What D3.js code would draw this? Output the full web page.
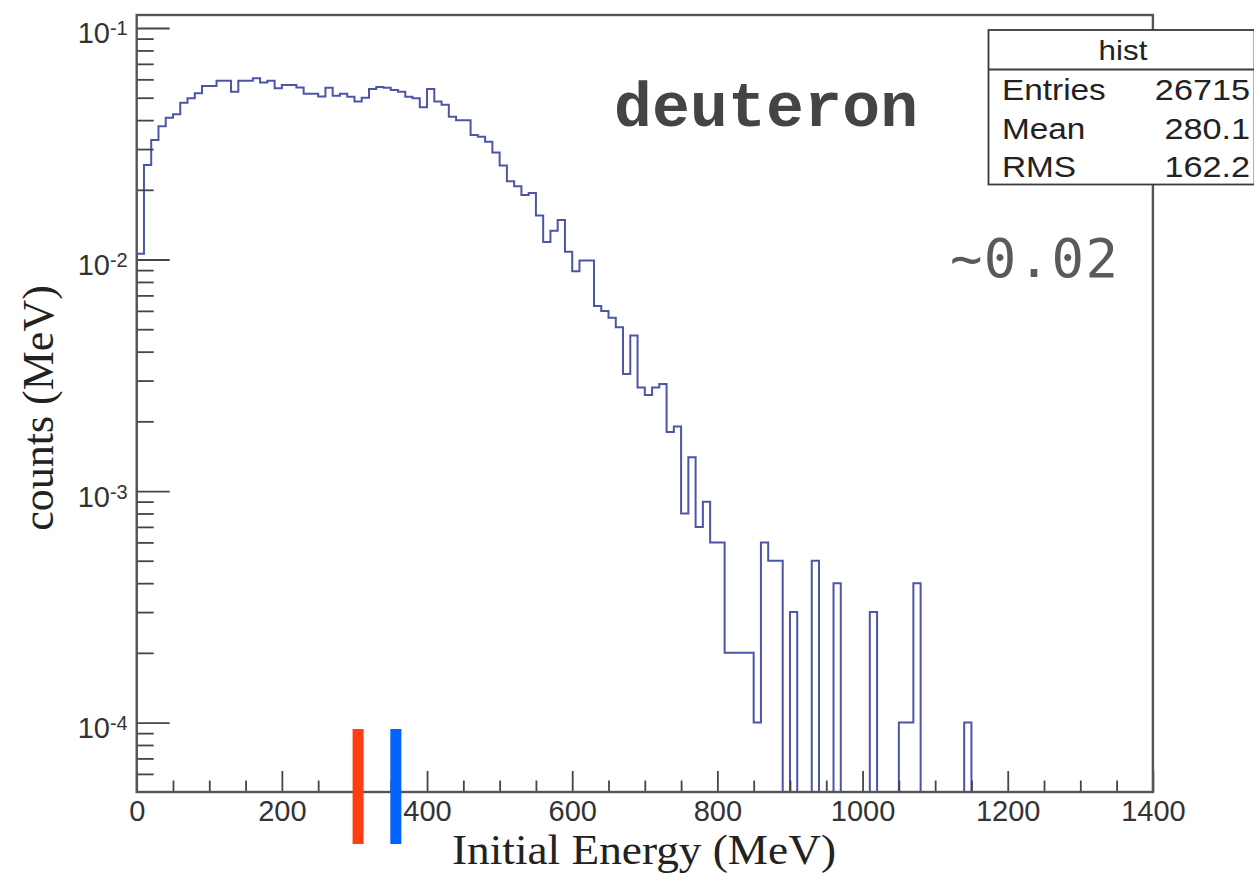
<!DOCTYPE html>
<html><head><meta charset="utf-8">
<script src="https://cdn.jsdelivr.net/npm/d3@7"></script>
<style>
html,body{margin:0;padding:0;background:#fff;}
svg{display:block;}
</style></head>
<body>
<svg id="chart" width="1254" height="873"></svg>
<script>
// ---------------- data ----------------
const binWidth = 10; // MeV per bin, histogram from 0 to 1400 MeV
const binValues = [
  0.0106, 0.0256, 0.0328, 0.0376, 0.0410, 0.0424, 0.0476, 0.0497, 0.0523, 0.0562,
  0.0562, 0.0592, 0.0592, 0.0531, 0.0592, 0.0592, 0.0606, 0.0581, 0.0592, 0.0549,
  0.0567, 0.0567, 0.0554, 0.0520, 0.0520, 0.0506, 0.0552, 0.0510, 0.0520, 0.0505,
  0.0481, 0.0500, 0.0545, 0.0556, 0.0552, 0.0540, 0.0531, 0.0505, 0.0497, 0.0455,
  0.0545, 0.0481, 0.0466, 0.0414, 0.0400, 0.0400, 0.0345, 0.0339, 0.0323, 0.0290,
  0.0255, 0.0218, 0.0207, 0.0190, 0.0194, 0.0155, 0.0119, 0.0133, 0.0148, 0.0108,
  0.0089, 0.0099, 0.0099, 0.0063, 0.0060, 0.0056, 0.0051, 0.0032, 0.0047, 0.0028,
  0.0026, 0.0028, 0.0029, 0.0018, 0.0019, 0.0008, 0.0014, 0.0007, 0.0009, 0.0006,
  0.0006, 0.0002, 0.0002, 0.0002, 0.0002, 0.0001, 0.0006, 0.0005, 0.0005, 0,
  0.0003, 0, 0, 0.0005, 0, 0, 0.0004, 0, 0, 0,
  0, 0.0003, 0, 0, 0, 0.0001, 0.0001, 0.0004, 0, 0,
  0, 0, 0, 0, 0.0001, 0, 0, 0, 0, 0,
  0, 0, 0, 0, 0, 0, 0, 0, 0, 0,
  0, 0, 0, 0, 0, 0, 0, 0, 0, 0
];
const xDomain = [0, 1400];
const yDomain = [5.012e-5, 0.1138];
const xMajorTicks = [0, 200, 400, 600, 800, 1000, 1200, 1400];
const xMinorTicks = [50,100,150,250,300,350,450,500,550,650,700,750,850,900,950,1050,1100,1150,1250,1300,1350];
const yMajorTicks = [1e-4, 1e-3, 1e-2, 1e-1];
const yTickExponents = ["-4", "-3", "-2", "-1"];
const yMinorTicks = [6e-5,7e-5,8e-5,9e-5,
  2e-4,3e-4,4e-4,5e-4,6e-4,7e-4,8e-4,9e-4,
  2e-3,3e-3,4e-3,5e-3,6e-3,7e-3,8e-3,9e-3,
  2e-2,3e-2,4e-2,5e-2,6e-2,7e-2,8e-2,9e-2];
const histName = "hist";
const statLabels = ["Entries", "Mean", "RMS"];
const statValues = ["26715", "280.1", "162.2"];
const markerEnergies = [305, 357];
const markerColors = ["#ff3d12", "#0062ff"];
const particleLabel = "deuteron";
const noteLabel = "~0.02";
const xTitle = "Initial Energy (MeV)";
const yTitle = "counts (MeV)";

// ---------------- layout ----------------
const svg = d3.select("#chart");
svg.append("rect").attr("width", 1254).attr("height", 873).attr("fill", "#fff");

const plot = {left: 136.7, right: 1152.9, top: 15, bottom: 792};
const x = d3.scaleLinear().domain(xDomain).range([plot.left, plot.right]);
const y = d3.scaleLog().domain(yDomain).range([plot.bottom, plot.top]);

const axisColor = "#454545";
const sans = "'Liberation Sans', Arial, Helvetica, sans-serif";
const serif = "'Liberation Serif', 'Times New Roman', serif";

svg.append("clipPath").attr("id", "clip")
  .append("rect").attr("x", plot.left).attr("y", plot.top)
  .attr("width", plot.right - plot.left).attr("height", plot.bottom - plot.top);

// histogram step outline
const pts = [[xDomain[0], 0]];
binValues.forEach((v, i) => {
  pts.push([i * binWidth, v]);
  pts.push([(i + 1) * binWidth, v]);
});
pts.push([xDomain[1], 0]);
const line = d3.line()
  .x(d => x(d[0]))
  .y(d => d[1] > 0 ? y(d[1]) : plot.bottom + 2);
svg.append("path")
  .attr("clip-path", "url(#clip)")
  .attr("d", line(pts))
  .attr("fill", "none")
  .attr("stroke", "#4c55a8")
  .attr("stroke-width", 2)
  .attr("stroke-linejoin", "miter");

// y axis: minor ticks
svg.append("g").attr("transform", `translate(${plot.left},0)`)
  .call(d3.axisLeft(y).tickValues(yMinorTicks).tickSize(-17).tickFormat(""))
  .call(g => g.select(".domain").remove())
  .call(g => g.selectAll("line").attr("stroke", axisColor).attr("stroke-width", 1.8));

// y axis: major ticks + labels
const yAx = svg.append("g").attr("transform", `translate(${plot.left},0)`)
  .call(d3.axisLeft(y).tickValues(yMajorTicks).tickSize(-33).tickPadding(9).tickFormat(() => ""))
  .call(g => g.select(".domain").remove())
  .call(g => g.selectAll("line").attr("stroke", axisColor).attr("stroke-width", 1.8));
yAx.selectAll(".tick text").each(function(d, i) {
  const t = d3.select(this);
  t.attr("font-family", sans).attr("fill", "#333").attr("text-anchor", "end")
   .attr("x", -9).attr("dy", null).attr("y", 15).attr("font-size", 29);
  t.append("tspan").text("10");
  t.append("tspan").attr("font-size", 20).attr("dy", -8).text(yTickExponents[yMajorTicks.indexOf(d)]);
});

// x axis: minor ticks
svg.append("g").attr("transform", `translate(0,${plot.bottom})`)
  .call(d3.axisBottom(x).tickValues(xMinorTicks).tickSize(-11.5).tickFormat(""))
  .call(g => g.select(".domain").remove())
  .call(g => g.selectAll("line").attr("stroke", axisColor).attr("stroke-width", 1.8));
// x axis: major ticks + labels
svg.append("g").attr("transform", `translate(0,${plot.bottom})`)
  .call(d3.axisBottom(x).tickValues(xMajorTicks).tickSize(-21).tickPadding(10).tickFormat(d3.format("d")))
  .call(g => g.select(".domain").remove())
  .call(g => g.selectAll("line").attr("stroke", axisColor).attr("stroke-width", 1.8))
  .call(g => g.selectAll("text").attr("font-family", sans).attr("font-size", 29).attr("fill", "#333")
      .attr("y", 29).attr("dy", null));

// frame
svg.append("rect")
  .attr("x", plot.left).attr("y", plot.top)
  .attr("width", plot.right - plot.left).attr("height", plot.bottom - plot.top)
  .attr("fill", "none").attr("stroke", "#555").attr("stroke-width", 2.4);

// axis titles
svg.append("text").attr("x", 644).attr("y", 863.5)
  .attr("text-anchor", "middle").attr("font-family", serif).attr("font-size", 42).attr("fill", "#222")
  .attr("textLength", 384).attr("lengthAdjust", "spacingAndGlyphs")
  .text(xTitle);
svg.append("text").attr("transform", "translate(53,408) rotate(-90)")
  .attr("text-anchor", "middle").attr("font-family", serif).attr("font-size", 44).attr("fill", "#222")
  .text(yTitle);

// annotation markers
svg.append("g").selectAll("rect").data(markerEnergies).join("rect")
  .attr("x", d => x(d) - 5.5).attr("width", 11)
  .attr("y", plot.bottom - 63).attr("height", 115)
  .attr("fill", (d, i) => markerColors[i]);

// labels
svg.append("text").attr("x", 614).attr("y", 126)
  .attr("font-family", "'Liberation Mono', 'Courier New', monospace").attr("font-weight", "bold")
  .attr("font-size", 63).attr("textLength", 304).attr("lengthAdjust", "spacing")
  .attr("fill", "#444").text(particleLabel);
svg.append("text").attr("x", 950).attr("y", 277)
  .attr("font-family", "'DejaVu Sans Mono', monospace")
  .attr("font-size", 54).attr("textLength", 168).attr("lengthAdjust", "spacing")
  .attr("fill", "#5a5a5a").text(noteLabel);

// stats box
const box = {x: 988.5, y: 30, w: 266, h: 154.5, header: 69.5};
const sb = svg.append("g");
sb.append("rect").attr("x", box.x).attr("y", box.y).attr("width", box.w).attr("height", box.h)
  .attr("fill", "#fff").attr("stroke", "#3a3a3a").attr("stroke-width", 1.8);
sb.append("line").attr("x1", box.x).attr("x2", box.x + box.w).attr("y1", box.header).attr("y2", box.header)
  .attr("stroke", "#3a3a3a").attr("stroke-width", 1.8);
sb.append("text").attr("transform", "translate(1123,60) scale(1.12,1)")
  .attr("text-anchor", "middle").attr("font-family", sans).attr("font-size", 28).attr("fill", "#222")
  .text(histName);
const rowY = [100, 139, 177];
sb.selectAll("text.lab").data(statLabels).join("text").attr("class", "lab")
  .attr("transform", (d, i) => `translate(1002,${rowY[i]}) scale(1.15,1)`)
  .attr("font-family", sans).attr("font-size", 29).attr("fill", "#222").text(d => d);
sb.selectAll("text.val").data(statValues).join("text").attr("class", "val")
  .attr("transform", (d, i) => `translate(1250,${rowY[i]}) scale(1.18,1)`)
  .attr("text-anchor", "end")
  .attr("font-family", sans).attr("font-size", 29).attr("fill", "#222").text(d => d);
</script>
</body></html>
